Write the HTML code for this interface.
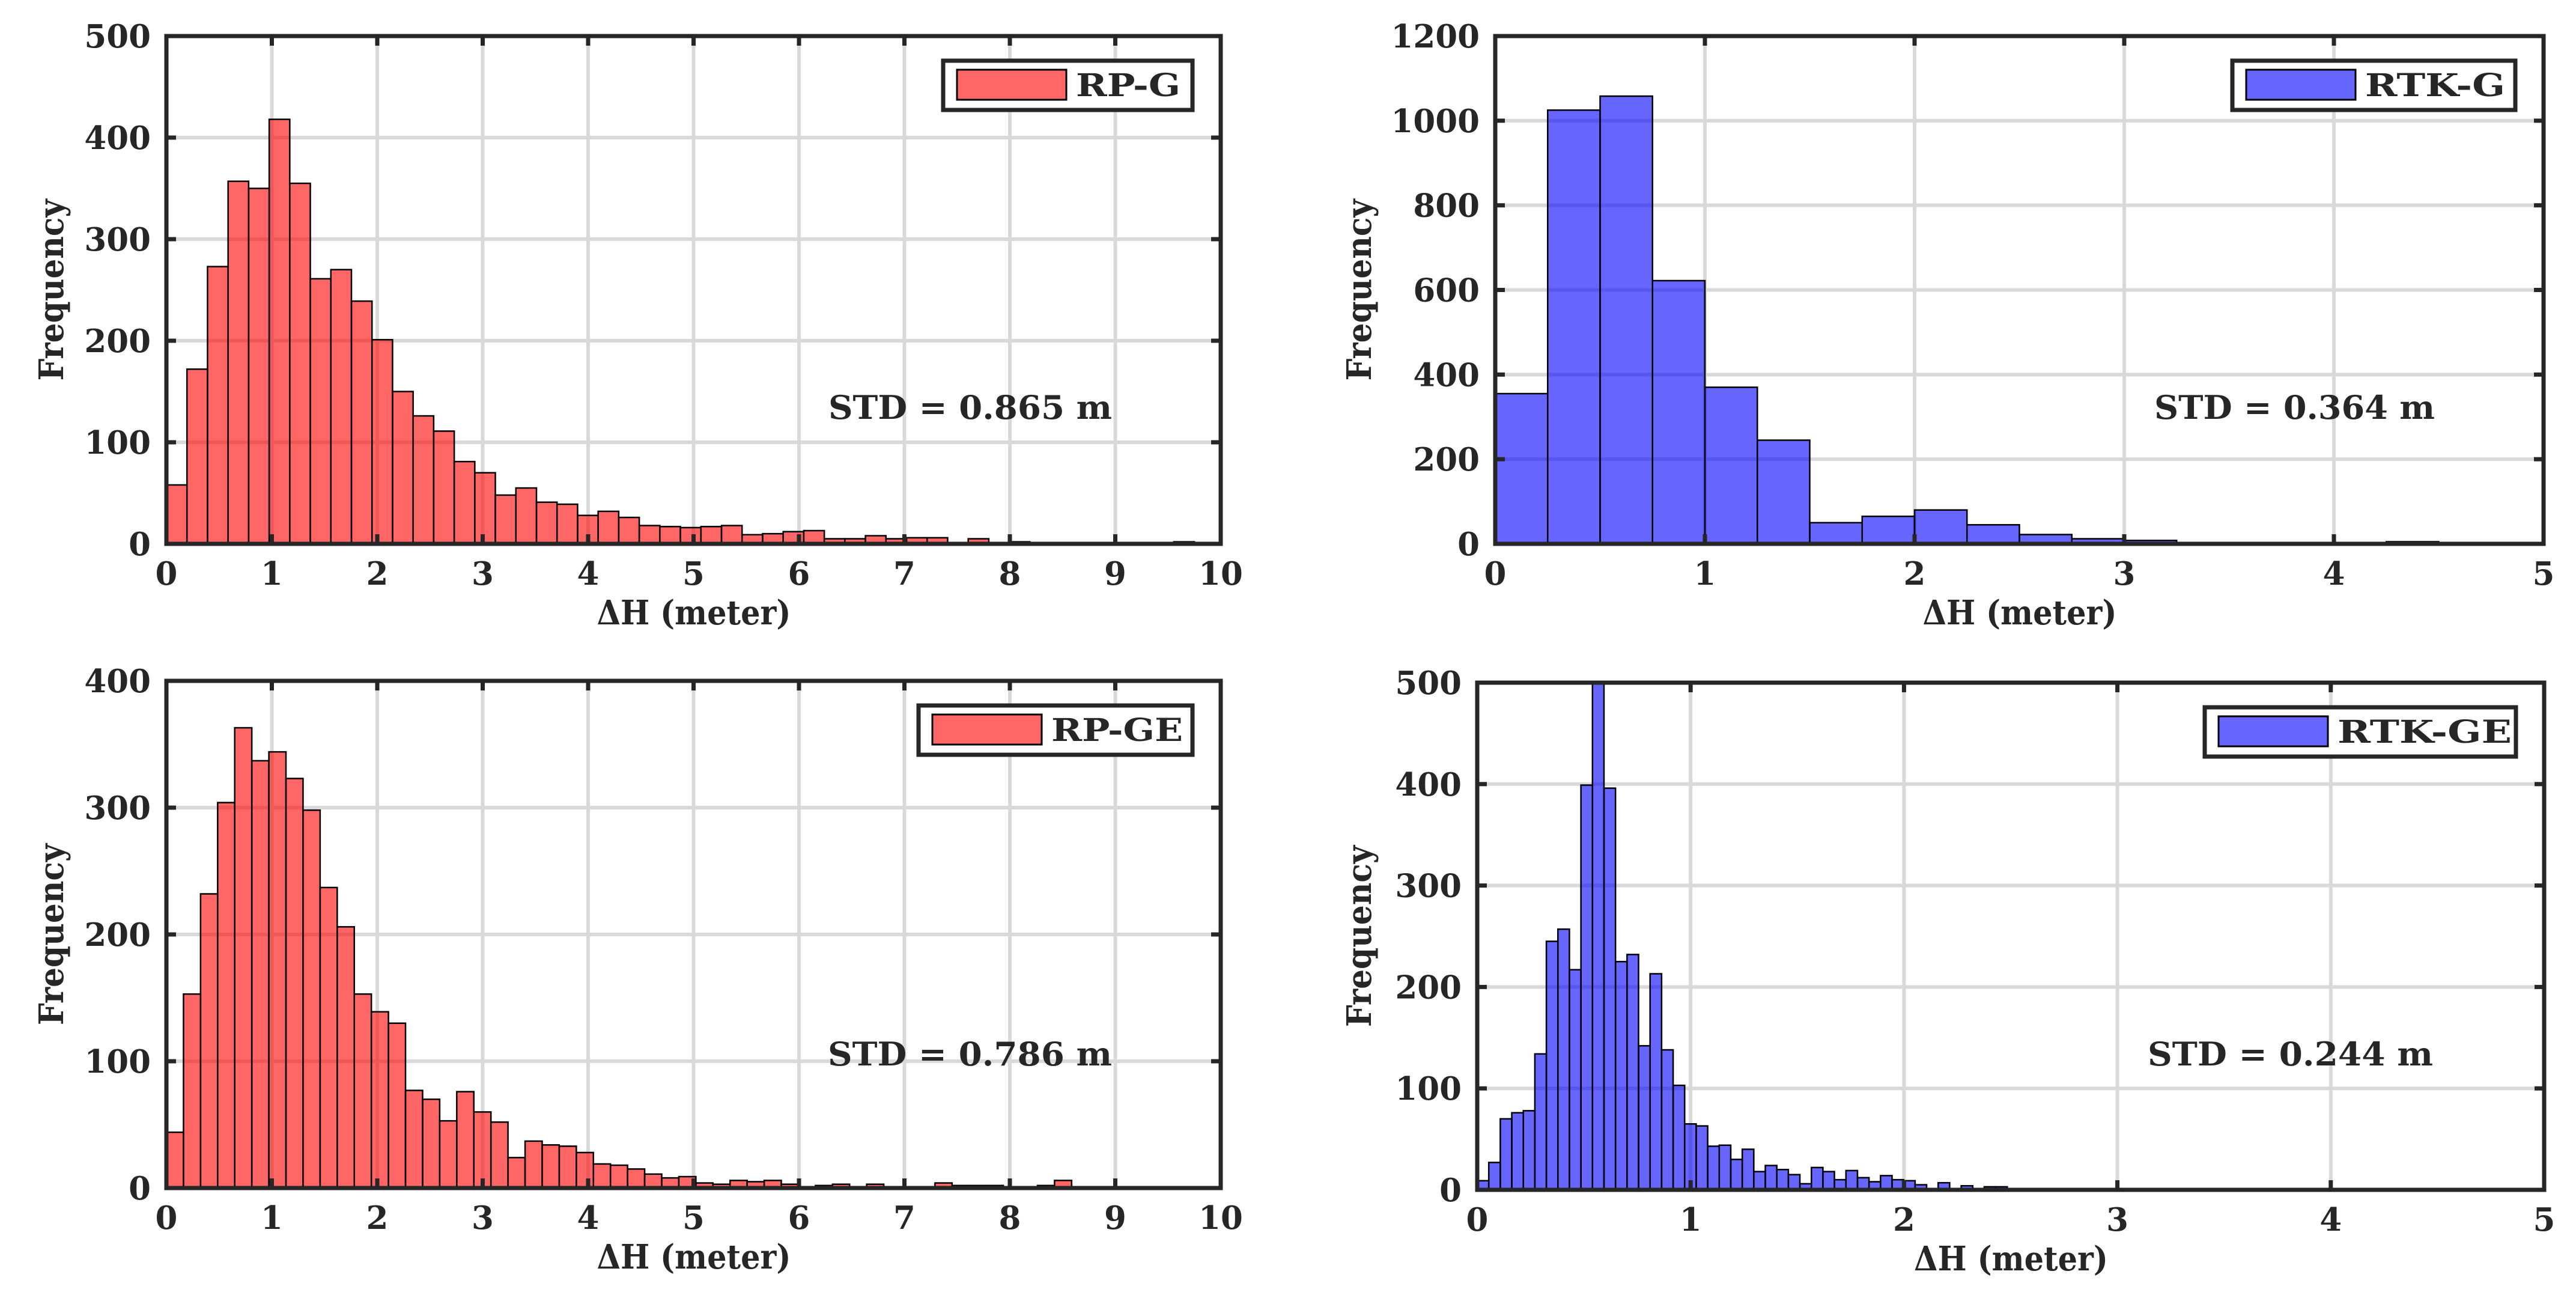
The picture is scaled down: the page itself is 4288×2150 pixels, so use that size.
<!DOCTYPE html>
<html><head><meta charset="utf-8"><style>
html,body{margin:0;padding:0;background:#fff;}
svg{display:block;}
text{font-family:"DejaVu Serif","Liberation Serif",serif;font-weight:bold;fill:#262626;}
</style></head><body>
<svg id="chart" width="4288" height="2150" viewBox="0 0 4288 2150" xmlns="http://www.w3.org/2000/svg"></svg>
<script>
// ---- data ----
const rpgBinWidth = 0.195;
const rpgCounts = [58,172,273,357,350,418,355,261,270,239,201,150,126,111,81,70,48,55,41,39,28,32,26,18,17,16,17,18,9,10,12,13,5,5,8,5,6,6,0,5,0,2,1,0,0,0,0,0,0,2,0];
const rtkgBinWidth = 0.25;
const rtkgCounts = [355,1025,1058,622,370,245,50,65,80,45,22,12,8,0,0,0,0,5,0,2];
const rpgeBinWidth = 0.162;
const rpgeCounts = [44,153,232,304,363,337,344,323,298,237,206,153,139,130,77,70,53,76,60,52,24,37,34,33,28,19,18,15,11,8,9,4,3,6,5,6,3,0,2,3,0,3,0,0,0,4,2,2,2,0,0,2,6,0.5];
const rtkgeBinWidth = 0.054;
const rtkgeCounts = [9,27,70,76,78,134,245,257,217,399,500,396,225,232,142,213,138,103,65,63,43,44,30,40,18,24,20,15,6,22,18,10,19,12,8,14,10,9,5,1,7,1,4,1,3,3];
const rpgYTicks = [0,100,200,300,400,500];
const rtkgYTicks = [0,200,400,600,800,1000,1200];
const rpgeYTicks = [0,100,200,300,400];
const rtkgeYTicks = [0,100,200,300,400,500];
const xTicks10 = [0,1,2,3,4,5,6,7,8,9,10];
const xTicks5 = [0,1,2,3,4,5];
const panelNames = ["RP-G","RTK-G","RP-GE","RTK-GE"];
const stdLabels = ["STD = 0.865 m","STD = 0.364 m","STD = 0.786 m","STD = 0.244 m"];

const NS = "http://www.w3.org/2000/svg";
const svg = document.getElementById('chart');
function mk(tag, attrs, parent){
  const e = document.createElementNS(NS, tag);
  for (const k in attrs) e.setAttribute(k, attrs[k]);
  (parent||svg).appendChild(e);
  return e;
}

function panel(cfg){
  const g = mk('g', {});
  
  
  const L=cfg.L,R=cfg.R,T=cfg.T,B=cfg.B;
  const xmax = cfg.xt[cfg.xt.length-1], ymax = cfg.yt[cfg.yt.length-1];
  const sx = v => L + (R-L)*v/xmax;
  const sy = v => B - (B-T)*Math.min(v,ymax)/ymax;
  const grid = mk('g', {stroke:'#d9d9d9','stroke-width':6}, g);
  
  
  cfg.xt.forEach(v => { if(v>0 && v<xmax) mk('line',{x1:sx(v),x2:sx(v),y1:T,y2:B},grid); });
  cfg.yt.forEach(v => { if(v>0 && v<ymax) mk('line',{x1:L,x2:R,y1:sy(v),y2:sy(v)},grid); });
  const bars = mk('g', {}, g);
  
  
  cfg.counts.forEach((c,i) => {
    const x0 = sx(i*cfg.bw), x1 = sx((i+1)*cfg.bw);
    if (x0 >= R) return;
    const r = mk('rect',{x:x0,y:sy(c),width:Math.min(x1,R)-x0,height:B-sy(c),fill:cfg.color,'fill-opacity':0.6,stroke:'#000','stroke-width':2.5}, bars);
    
    
  });
  const ax = mk('g', {stroke:'#262626','stroke-width':7,fill:'none'}, g);
  
  
  mk('rect',{x:L,y:T,width:R-L,height:B-T},ax);
  cfg.xt.forEach(v => { mk('line',{x1:sx(v),x2:sx(v),y1:B,y2:B-16},ax); mk('line',{x1:sx(v),x2:sx(v),y1:T,y2:T+16},ax); });
  cfg.yt.forEach(v => { mk('line',{x1:L,x2:L+16,y1:sy(v),y2:sy(v)},ax); mk('line',{x1:R,x2:R-16,y1:sy(v),y2:sy(v)},ax); });
  cfg.xt.forEach(v => {
    const t = mk('text',{x:sx(v),y:B+68,'font-size':53,'text-anchor':'middle'},g);
    t.textContent = v;
    
    
  });
  cfg.yt.forEach(v => {
    const t = mk('text',{x:L-26,y:sy(v)+19,'font-size':53,'text-anchor':'end'},g);
    t.textContent = v;
    
    
  });
  const xtt = mk('text',{x:(L+R)/2 - 161,y:B+134,'font-size':56,textLength:323,lengthAdjust:'spacingAndGlyphs'},g);
  xtt.textContent = 'ΔH (meter)';
  
  
  const yc = (T+B)/2, yx = cfg.ytx;
  const ytt = mk('text',{x:yx,y:yc+151,'font-size':56,textLength:302,lengthAdjust:'spacingAndGlyphs',transform:'rotate(-90 '+yx+' '+(yc+151)+')'},g);
  ytt.setAttribute('transform','rotate(-90 '+yx+' '+(yc+151)+')');
  ytt.setAttribute('x', yx); ytt.setAttribute('y', yc+151);
  ytt.textContent = 'Frequency';
  
  
  const lg = mk('g',{},g);
  
  
  mk('rect',{x:cfg.lx,y:T+41,width:R-47-cfg.lx,height:82,fill:'#fff',stroke:'#262626','stroke-width':7},lg);
  mk('rect',{x:cfg.lx+23,y:T+56,width:182,height:50,fill:cfg.color,'fill-opacity':0.6,stroke:'#000','stroke-width':3},lg);
  const lt = mk('text',{x:cfg.lx+221,y:T+100,'font-size':52,textLength:cfg.lw,lengthAdjust:'spacingAndGlyphs'},lg);
  lt.textContent = cfg.name;
  
  
  const st = mk('text',{x:cfg.sx,y:cfg.sy,'font-size':54,textLength:cfg.sw,lengthAdjust:'spacingAndGlyphs'},g);
  st.textContent = cfg.std;
  
  
}

panel({id:'rp-g',L:277,R:2032,T:60,B:905,xt:xTicks10,yt:rpgYTicks,counts:rpgCounts,bw:rpgBinWidth,color:'#ff0000',name:panelNames[0],lx:1570,lw:174,ytx:105,std:stdLabels[0],sx:1379,sy:697,sw:472});
panel({id:'rtk-g',L:2489,R:4234,T:60,B:905,xt:xTicks5,yt:rtkgYTicks,counts:rtkgCounts,bw:rtkgBinWidth,color:'#0000ff',name:panelNames[1],lx:3716,lw:233,ytx:2282,std:stdLabels[1],sx:3586,sy:697,sw:467});
panel({id:'rp-ge',L:277,R:2032,T:1133,B:1977,xt:xTicks10,yt:rpgeYTicks,counts:rpgeCounts,bw:rpgeBinWidth,color:'#ff0000',name:panelNames[2],lx:1529,lw:219,ytx:105,std:stdLabels[2],sx:1378,sy:1773,sw:473});
panel({id:'rtk-ge',L:2459,R:4235,T:1136,B:1980,xt:xTicks5,yt:rtkgeYTicks,counts:rtkgeCounts,bw:rtkgeBinWidth,color:'#0000ff',name:panelNames[3],lx:3670,lw:290,ytx:2282,std:stdLabels[3],sx:3575,sy:1773,sw:475});
</script>
</body></html>
